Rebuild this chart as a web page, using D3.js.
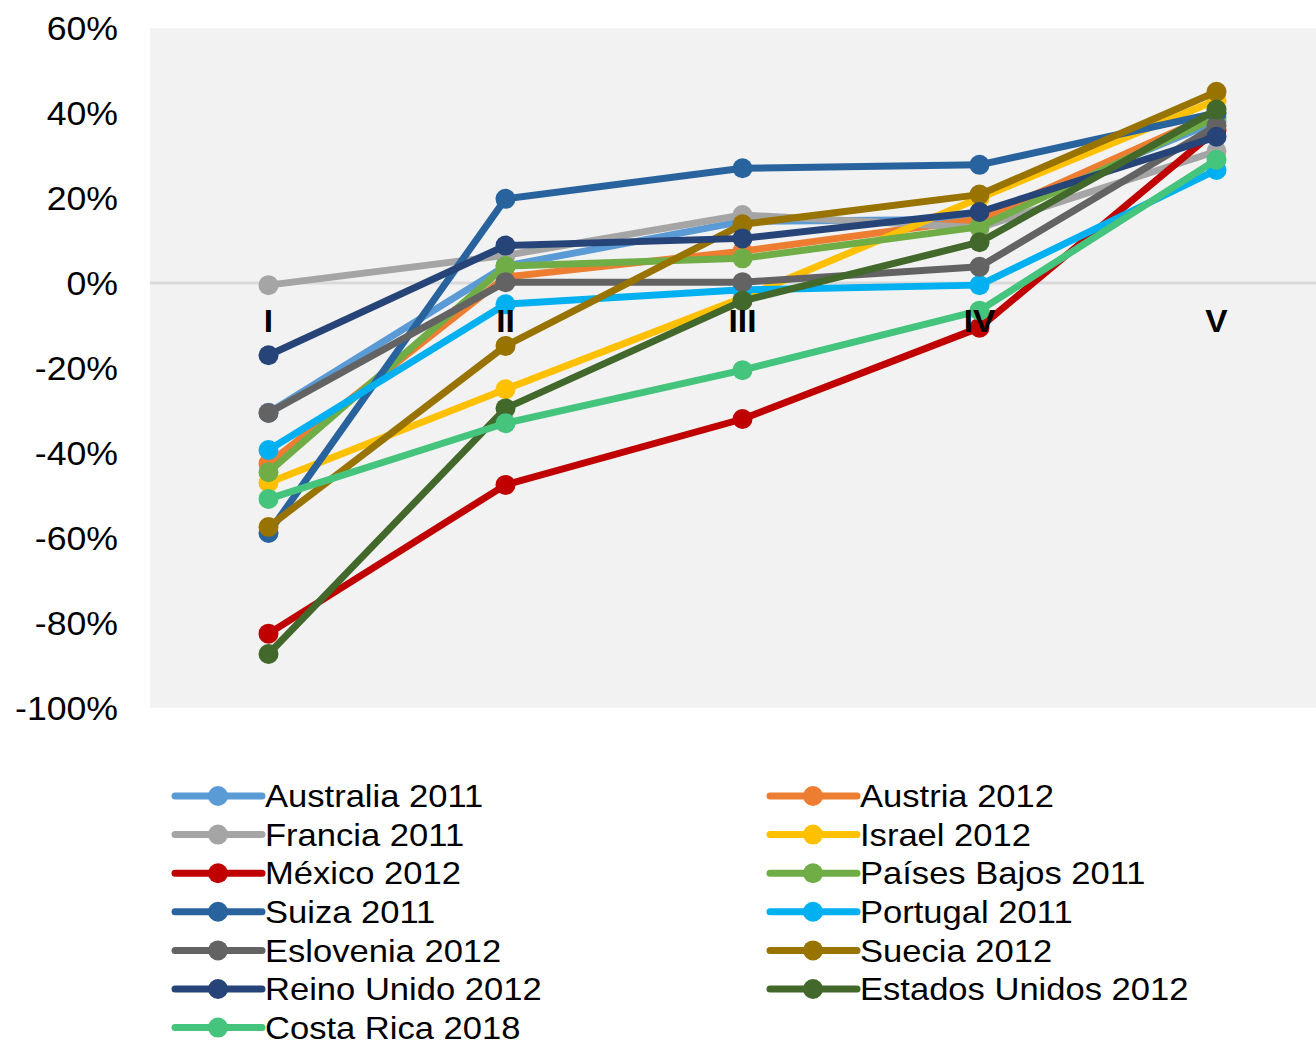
<!DOCTYPE html>
<html>
<head>
<meta charset="utf-8">
<script src="https://cdn.jsdelivr.net/npm/d3@7"></script>
<style>
  html, body { margin: 0; padding: 0; background: #ffffff; }
  svg { display: block; }
  text { font-family: "Liberation Sans", Arial, sans-serif; fill: #000; }
</style>
</head>
<body>
<svg id="chart" width="1316" height="1046"></svg>
<script>
// ---- data ----
const categories = ["I", "II", "III", "IV", "V"];
const yTicks = [60, 40, 20, 0, -20, -40, -60, -80, -100];

const seriesNames = [
  "Australia 2011", "Austria 2012", "Francia 2011", "Israel 2012",
  "México 2012", "Países Bajos 2011", "Suiza 2011", "Portugal 2011",
  "Eslovenia 2012", "Suecia 2012", "Reino Unido 2012", "Estados Unidos 2012",
  "Costa Rica 2018"
];
const seriesColors = [
  "#5B9BD5", "#ED7D31", "#A5A5A5", "#FFC000",
  "#C00000", "#70AD47", "#29639E", "#00B0F0",
  "#636363", "#997300", "#264478", "#43682B",
  "#44C47C"
];
const australia   = [-30.5,  4.0, 14.5, 15.0, 38.0];
const austria     = [-42.5,  1.4,  7.5, 15.0, 40.0];
const francia     = [ -0.5,  6.5, 16.0, 13.0, 31.0];
const israel      = [-47.0,-25.0, -3.5, 20.0, 43.0];
const mexico      = [-82.5,-47.5,-32.0,-10.5, 36.0];
const paisesBajos = [-44.5,  4.0,  5.8, 13.2, 39.0];
const suiza       = [-58.8, 19.8, 27.0, 27.8, 40.0];
const portugal    = [-39.3, -5.0, -1.6, -0.5, 26.6];
const eslovenia   = [-30.6,  0.2,  0.2,  3.8, 37.0];
const suecia      = [-57.4,-14.8, 13.8, 20.8, 45.0];
const reinoUnido  = [-17.0,  8.8, 10.5, 16.7, 34.4];
const eeuu        = [-87.3,-29.5, -4.2,  9.6, 40.8];
const costaRica   = [-50.8,-33.0,-20.5, -6.5, 29.0];

const seriesValues = [australia, austria, francia, israel, mexico, paisesBajos,
  suiza, portugal, eslovenia, suecia, reinoUnido, eeuu, costaRica];

const series = seriesNames.map((name, i) => ({
  name, color: seriesColors[i],
  points: categories.map((c, j) => ({ cat: c, v: seriesValues[i][j] }))
}));

// ---- layout ----
const svg = d3.select("#chart");
const plot = { left: 150, top: 28, right: 1335, bottom: 708 };
const textStretch = 1.08;

const x = d3.scaleBand().domain(categories).range([plot.left, plot.right]);
const cx = c => x(c) + x.bandwidth() / 2;
const y = d3.scaleLinear().domain([-100, 60]).range([plot.bottom, plot.top]);

// plot background
svg.append("rect")
  .attr("x", plot.left).attr("y", plot.top)
  .attr("width", plot.right - plot.left).attr("height", plot.bottom - plot.top)
  .attr("fill", "#F2F2F2");

// zero line
svg.append("line")
  .attr("x1", plot.left).attr("x2", plot.right)
  .attr("y1", y(0)).attr("y2", y(0))
  .attr("stroke", "#D9D9D9").attr("stroke-width", 3);

// y axis labels
const yAxis = d3.axisLeft(y).tickValues(yTicks).tickFormat(d => d + "%").tickSize(0).tickPadding(0);
const yG = svg.append("g").attr("transform", `translate(118,0)`).call(yAxis);
yG.select(".domain").remove();
yG.selectAll("text")
  .attr("font-family", "Liberation Sans, Arial, sans-serif")
  .attr("font-size", 33)
  .attr("fill", "#000")
  .attr("dy", "0.35em")
  .attr("x", 0)
  .attr("transform", `scale(${textStretch},1)`);

// lines
const line = d3.line().x(d => cx(d.cat)).y(d => y(d.v));
const sg = svg.append("g");
series.forEach(s => {
  const g = sg.append("g");
  g.append("path")
    .datum(s.points)
    .attr("d", line)
    .attr("fill", "none")
    .attr("stroke", s.color)
    .attr("stroke-width", 7)
    .attr("stroke-linejoin", "round")
    .attr("stroke-linecap", "round");
  g.selectAll("circle").data(s.points).join("circle")
    .attr("cx", d => cx(d.cat)).attr("cy", d => y(d.v))
    .attr("r", 10).attr("fill", s.color);
});

// category labels (at zero line)
const xAxis = d3.axisBottom(x).tickSize(0).tickPadding(0);
const xG = svg.append("g").attr("transform", `translate(0,${y(0)})`).call(xAxis);
xG.select(".domain").remove();
xG.selectAll("text")
  .attr("font-family", "Liberation Sans, Arial, sans-serif")
  .attr("font-size", 31)
  .attr("font-weight", "bold")
  .attr("fill", "#000")
  .attr("y", 49)
  .attr("dy", 0)
  .attr("transform", `scale(${textStretch},1)`)
  .attr("x", function() {
    // keep centre at the tick position after horizontal stretch
    return 0;
  });

// legend
const legend = svg.append("g");
const colX = [175, 770];
const rowY0 = 796, rowH = 38.6;
series.forEach((s, i) => {
  const col = i % 2, row = Math.floor(i / 2);
  const lx = colX[col], ly = rowY0 + row * rowH;
  const g = legend.append("g").attr("transform", `translate(${lx},${ly})`);
  g.append("line").attr("x1", 0).attr("x2", 87).attr("y1", 0).attr("y2", 0)
    .attr("stroke", s.color).attr("stroke-width", 7).attr("stroke-linecap", "round");
  g.append("circle").attr("cx", 43).attr("cy", 0).attr("r", 10).attr("fill", s.color);
  g.append("text").attr("x", 0).attr("y", 0).attr("dy", "0.35em")
    .attr("transform", `translate(90,0) scale(${textStretch},1)`)
    .attr("font-size", 32).text(s.name);
});
</script>
</body>
</html>
